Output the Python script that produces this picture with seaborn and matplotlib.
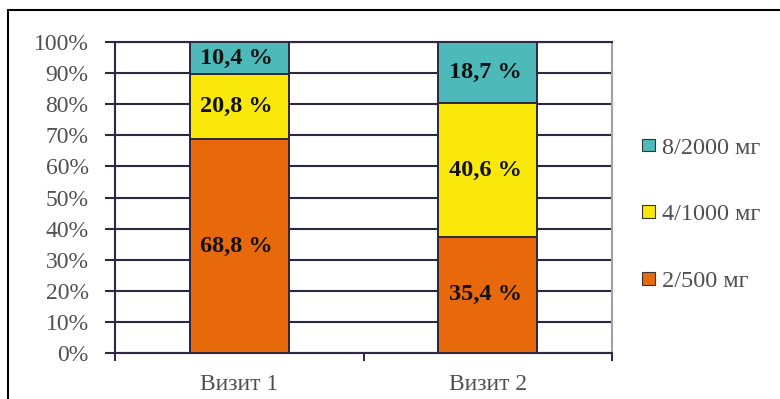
import matplotlib
matplotlib.use("Agg")
import matplotlib.pyplot as plt
from matplotlib.patches import Patch
from matplotlib.lines import Line2D
import numpy as np
import pandas as pd
import seaborn as sns

# Share of patients by dose group at each visit, %
visits = ["Визит 1", "Визит 2"]
dose_500 = [68.8, 35.4]
dose_1000 = [20.8, 40.6]
dose_2000 = [10.4, 18.7]
series_labels = ["2/500 мг", "4/1000 мг", "8/2000 мг"]
y_ticks = [0, 10, 20, 30, 40, 50, 60, 70, 80, 90, 100]

colors = ["#E8690B", "#FAE80A", "#4DB9B8"]
grid_col = "#2E2642"
text_gray = "#505050"

sns.set_theme(style="white")
plt.rcParams["font.family"] = ["Liberation Serif", "DejaVu Serif"]

raw = np.array([dose_500, dose_1000, dose_2000])
share = raw / raw.sum(axis=0) * 100  # 100 % stacked
cum = np.cumsum(share, axis=0)

fig = plt.figure(figsize=(7.8, 3.99), dpi=100)
ax = fig.add_axes([115 / 780, 1 - 353 / 399, (612 - 115) / 780, (353 - 42) / 399])

# Draw stacked segments from the top down so each lower segment overlays the one above
for i in [2, 1, 0]:
    df = pd.DataFrame({"visit": visits, "value": cum[i]})
    sns.barplot(data=df, x="visit", y="value", color=colors[i], width=0.4,
                edgecolor=grid_col, linewidth=1.4, saturation=1, ax=ax, zorder=3)

# Segment labels
for j in range(len(visits)):
    bottom = 0.0
    for i in range(3):
        mid = bottom + share[i, j] / 2
        ax.text(j - 0.01, mid, f"{raw[i, j]:.1f} %".replace(".", ","), ha="center", va="center",
                fontsize=17.5, fontweight="bold", color="#111111", zorder=5)
        bottom += share[i, j]

ax.set_xlim(-0.5, 1.5)
ax.set_ylim(0, 100)
ax.set_xlabel("")
ax.set_ylabel("")

ax.set_yticks(y_ticks)
ax.set_yticklabels([f"{t}%" for t in y_ticks])
ax.yaxis.grid(True, color=grid_col, linewidth=1.5, zorder=0)
ax.set_axisbelow(True)

# Boundary ticks between categories, labels at the centres
ax.set_xticks([-0.5, 0.5, 1.5])
ax.set_xticklabels(["", "", ""])
ax.set_xticks([0, 1], minor=True)
ax.set_xticklabels(visits, minor=True)
ax.tick_params(axis="x", which="major", direction="out", length=6, width=1.4, color=grid_col, bottom=True)
ax.tick_params(axis="x", which="minor", length=0, pad=15, labelsize=17, labelcolor=text_gray)
ax.tick_params(axis="y", direction="out", length=7, width=1.5, color=grid_col, left=True,
               pad=12, labelsize=17, labelcolor=text_gray)

for side in ["left", "bottom", "top"]:
    ax.spines[side].set_color(grid_col)
    ax.spines[side].set_linewidth(1.5)
ax.spines["right"].set_color("#A0A0A8")
ax.spines["right"].set_linewidth(1.5)

handles = [Patch(facecolor=colors[i], edgecolor="#333333", linewidth=0.8, label=series_labels[i])
           for i in [2, 1, 0]]
fig.legend(handles=handles, loc="upper left", bbox_to_anchor=(632 / 780, 1 - 128 / 399),
           frameon=False, fontsize=17.5, labelcolor=text_gray, handlelength=0.55,
           handleheight=0.42, handletextpad=0.3, labelspacing=1.88, borderaxespad=0)

# Outer frame
fig.add_artist(Line2D([8 / 780, 8 / 780], [0, 1 - 10 / 399], color="black", linewidth=1.5,
                      transform=fig.transFigure))
fig.add_artist(Line2D([8 / 780, 1], [1 - 10 / 399, 1 - 10 / 399], color="black", linewidth=1.5,
                      transform=fig.transFigure))

fig.savefig("out.png", dpi=100)
